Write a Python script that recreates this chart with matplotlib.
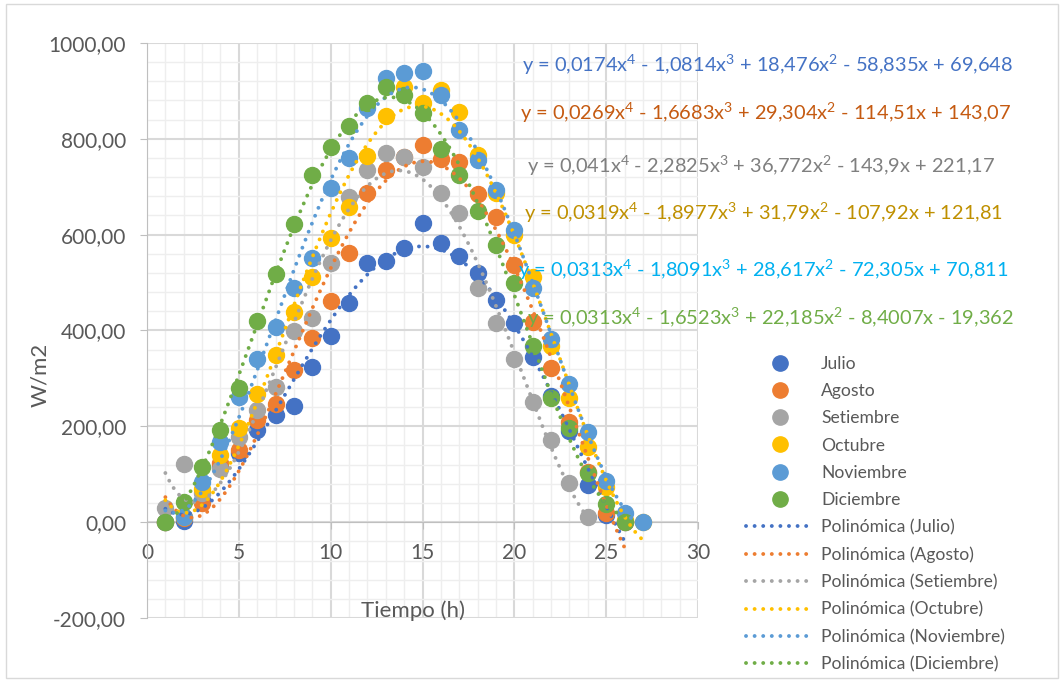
import numpy as np
import matplotlib.pyplot as plt
from matplotlib.patches import FancyBboxPatch
from matplotlib.lines import Line2D
from matplotlib.ticker import MultipleLocator, FuncFormatter

plt.rcParams['font.family'] = ['Lato', 'DejaVu Sans']
plt.rcParams['mathtext.default'] = 'regular'

# hourly irradiance readings (W/m2), hour index starts at 1
months = ['Julio', 'Agosto', 'Setiembre', 'Octubre', 'Noviembre', 'Diciembre']
julio = [0, 2, 46, 115, 144, 192, 223, 243, 324, 388, 457, 541, 544, 572, 625,
         583, 556, 519, 463, 416, 345, 263, 190, 77, 15, 0]
agosto = [0, 8, 40, 124, 150, 213, 246, 317, 385, 462, 561, 687, 735, 763, 787,
          757, 752, 685, 637, 536, 418, 321, 209, 105, 19, 0]
setiembre = [29, 121, 60, 110, 178, 234, 282, 399, 426, 540, 679, 735, 770, 762,
             741, 686, 645, 488, 415, 340, 250, 171, 81, 11]
octubre = [0, 10, 69, 140, 196, 267, 349, 439, 512, 592, 658, 764, 848, 909, 874,
           902, 857, 766, 687, 599, 512, 367, 260, 157, 74, 5, 0]
noviembre = [0, 11, 84, 168, 262, 340, 407, 488, 551, 697, 760, 865, 926, 937, 942,
             891, 818, 756, 693, 610, 488, 382, 288, 189, 86, 19, 0]
diciembre = [1, 42, 115, 193, 280, 419, 518, 622, 724, 782, 827, 874, 909, 891, 854,
             779, 724, 649, 578, 499, 367, 259, 196, 102, 38, 1]
series = [julio, agosto, setiembre, octubre, noviembre, diciembre]

colors = ['#4472C4', '#ED7D31', '#A5A5A5', '#FFC000', '#5B9BD5', '#70AD47']
eq_colors = ['#4472C4', '#C55A11', '#7F7F7F', '#BF9000', '#00B0F0', '#70AD47']
equations = [
    'y = 0,0174x$^4$ - 1,0814x$^3$ + 18,476x$^2$ - 58,835x + 69,648',
    'y = 0,0269x$^4$ - 1,6683x$^3$ + 29,304x$^2$ - 114,51x + 143,07',
    'y = 0,041x$^4$ - 2,2825x$^3$ + 36,772x$^2$ - 143,9x + 221,17',
    'y = 0,0319x$^4$ - 1,8977x$^3$ + 31,79x$^2$ - 107,92x + 121,81',
    'y = 0,0313x$^4$ - 1,8091x$^3$ + 28,617x$^2$ - 72,305x + 70,811',
    'y = 0,0313x$^4$ - 1,6523x$^3$ + 22,185x$^2$ - 8,4007x - 19,362',
]
eq_pos = [(522, 65), (520, 113), (527, 166), (524, 213), (518, 270), (527, 318)]

W, H = 1064, 682
fig = plt.figure(figsize=(W / 100, H / 100), dpi=100)
fig.patches.append(FancyBboxPatch((6 / W, 4 / H), 1 - 12 / W, 1 - 8 / H,
                                  boxstyle='square,pad=0', transform=fig.transFigure,
                                  fill=False, ec='#D9D9D9', lw=1))
ax = fig.add_axes([147 / W, 1 - 618 / H, 551 / W, 575 / H])
ax.set_xlim(0, 30)
ax.set_ylim(-200, 1000)

ax.xaxis.set_major_locator(MultipleLocator(5))
ax.xaxis.set_minor_locator(MultipleLocator(1))
ax.yaxis.set_major_locator(MultipleLocator(200))
ax.yaxis.set_minor_locator(MultipleLocator(40))
ax.grid(which='major', color='#D9D9D9', lw=1.5)
ax.grid(which='minor', color='#EEEEEE', lw=1)
ax.set_axisbelow(True)

for s in ['top', 'right']:
    ax.spines[s].set_visible(False)
ax.spines['bottom'].set_position(('data', 0))
ax.spines['bottom'].set_color('#BFBFBF')
ax.spines['left'].set_color('#BFBFBF')
ax.tick_params(which='major', length=5, color='#BFBFBF', labelcolor='#595959', labelsize=15)
ax.tick_params(which='minor', length=0)
ax.tick_params(axis='x', pad=10)
ax.tick_params(axis='y', pad=10)
ax.yaxis.set_major_formatter(FuncFormatter(lambda v, p: f'{v:.2f}'.replace('.', ',')))

fig.text(40 / W, 1 - 375 / H, 'W/m2', fontsize=16, color='#595959',
         rotation=90, ha='center', va='center')
fig.text(413 / W, 1 - 611 / H, 'Tiempo (h)', fontsize=16, color='#595959',
         ha='center', va='center')

handles = []
for name, vals, c in zip(months, series, colors):
    x = np.arange(1, len(vals) + 1)
    ax.plot(x, vals, 'o', ms=11.5, color=c, zorder=3)
    handles.append(Line2D([], [], ls='none', marker='o', ms=11, color=c, label=name))

# 4th-degree trendlines, as in the spreadsheet
for name, vals, c in zip(months, series, colors):
    x = np.arange(1, len(vals) + 1)
    coef = np.polyfit(x, vals, 4)
    xs = np.linspace(1, len(vals), 300)
    ax.plot(xs, np.polyval(coef, xs), color=c, lw=2.8, ls=(0, (0.01, 2.2)),
            dash_capstyle='round', zorder=4)
    handles.append(Line2D([], [], color=c, lw=2.8, ls=(0, (0.01, 2.2)),
                          dash_capstyle='round', label=f'Polinómica ({name})'))

for txt, (px, py), c in zip(equations, eq_pos, eq_colors):
    fig.text(px / W, 1 - py / H, txt, fontsize=14.4, color=c, ha='left', va='center')

fig.legend(handles=handles, loc='upper left', bbox_to_anchor=(746 / W, 1 - 356 / H),
           frameon=False, fontsize=12.6, labelcolor='#595959', handlelength=3.9,
           handletextpad=0.4, labelspacing=0.64, borderpad=0, borderaxespad=0)

fig.savefig('out.png', dpi=100)
